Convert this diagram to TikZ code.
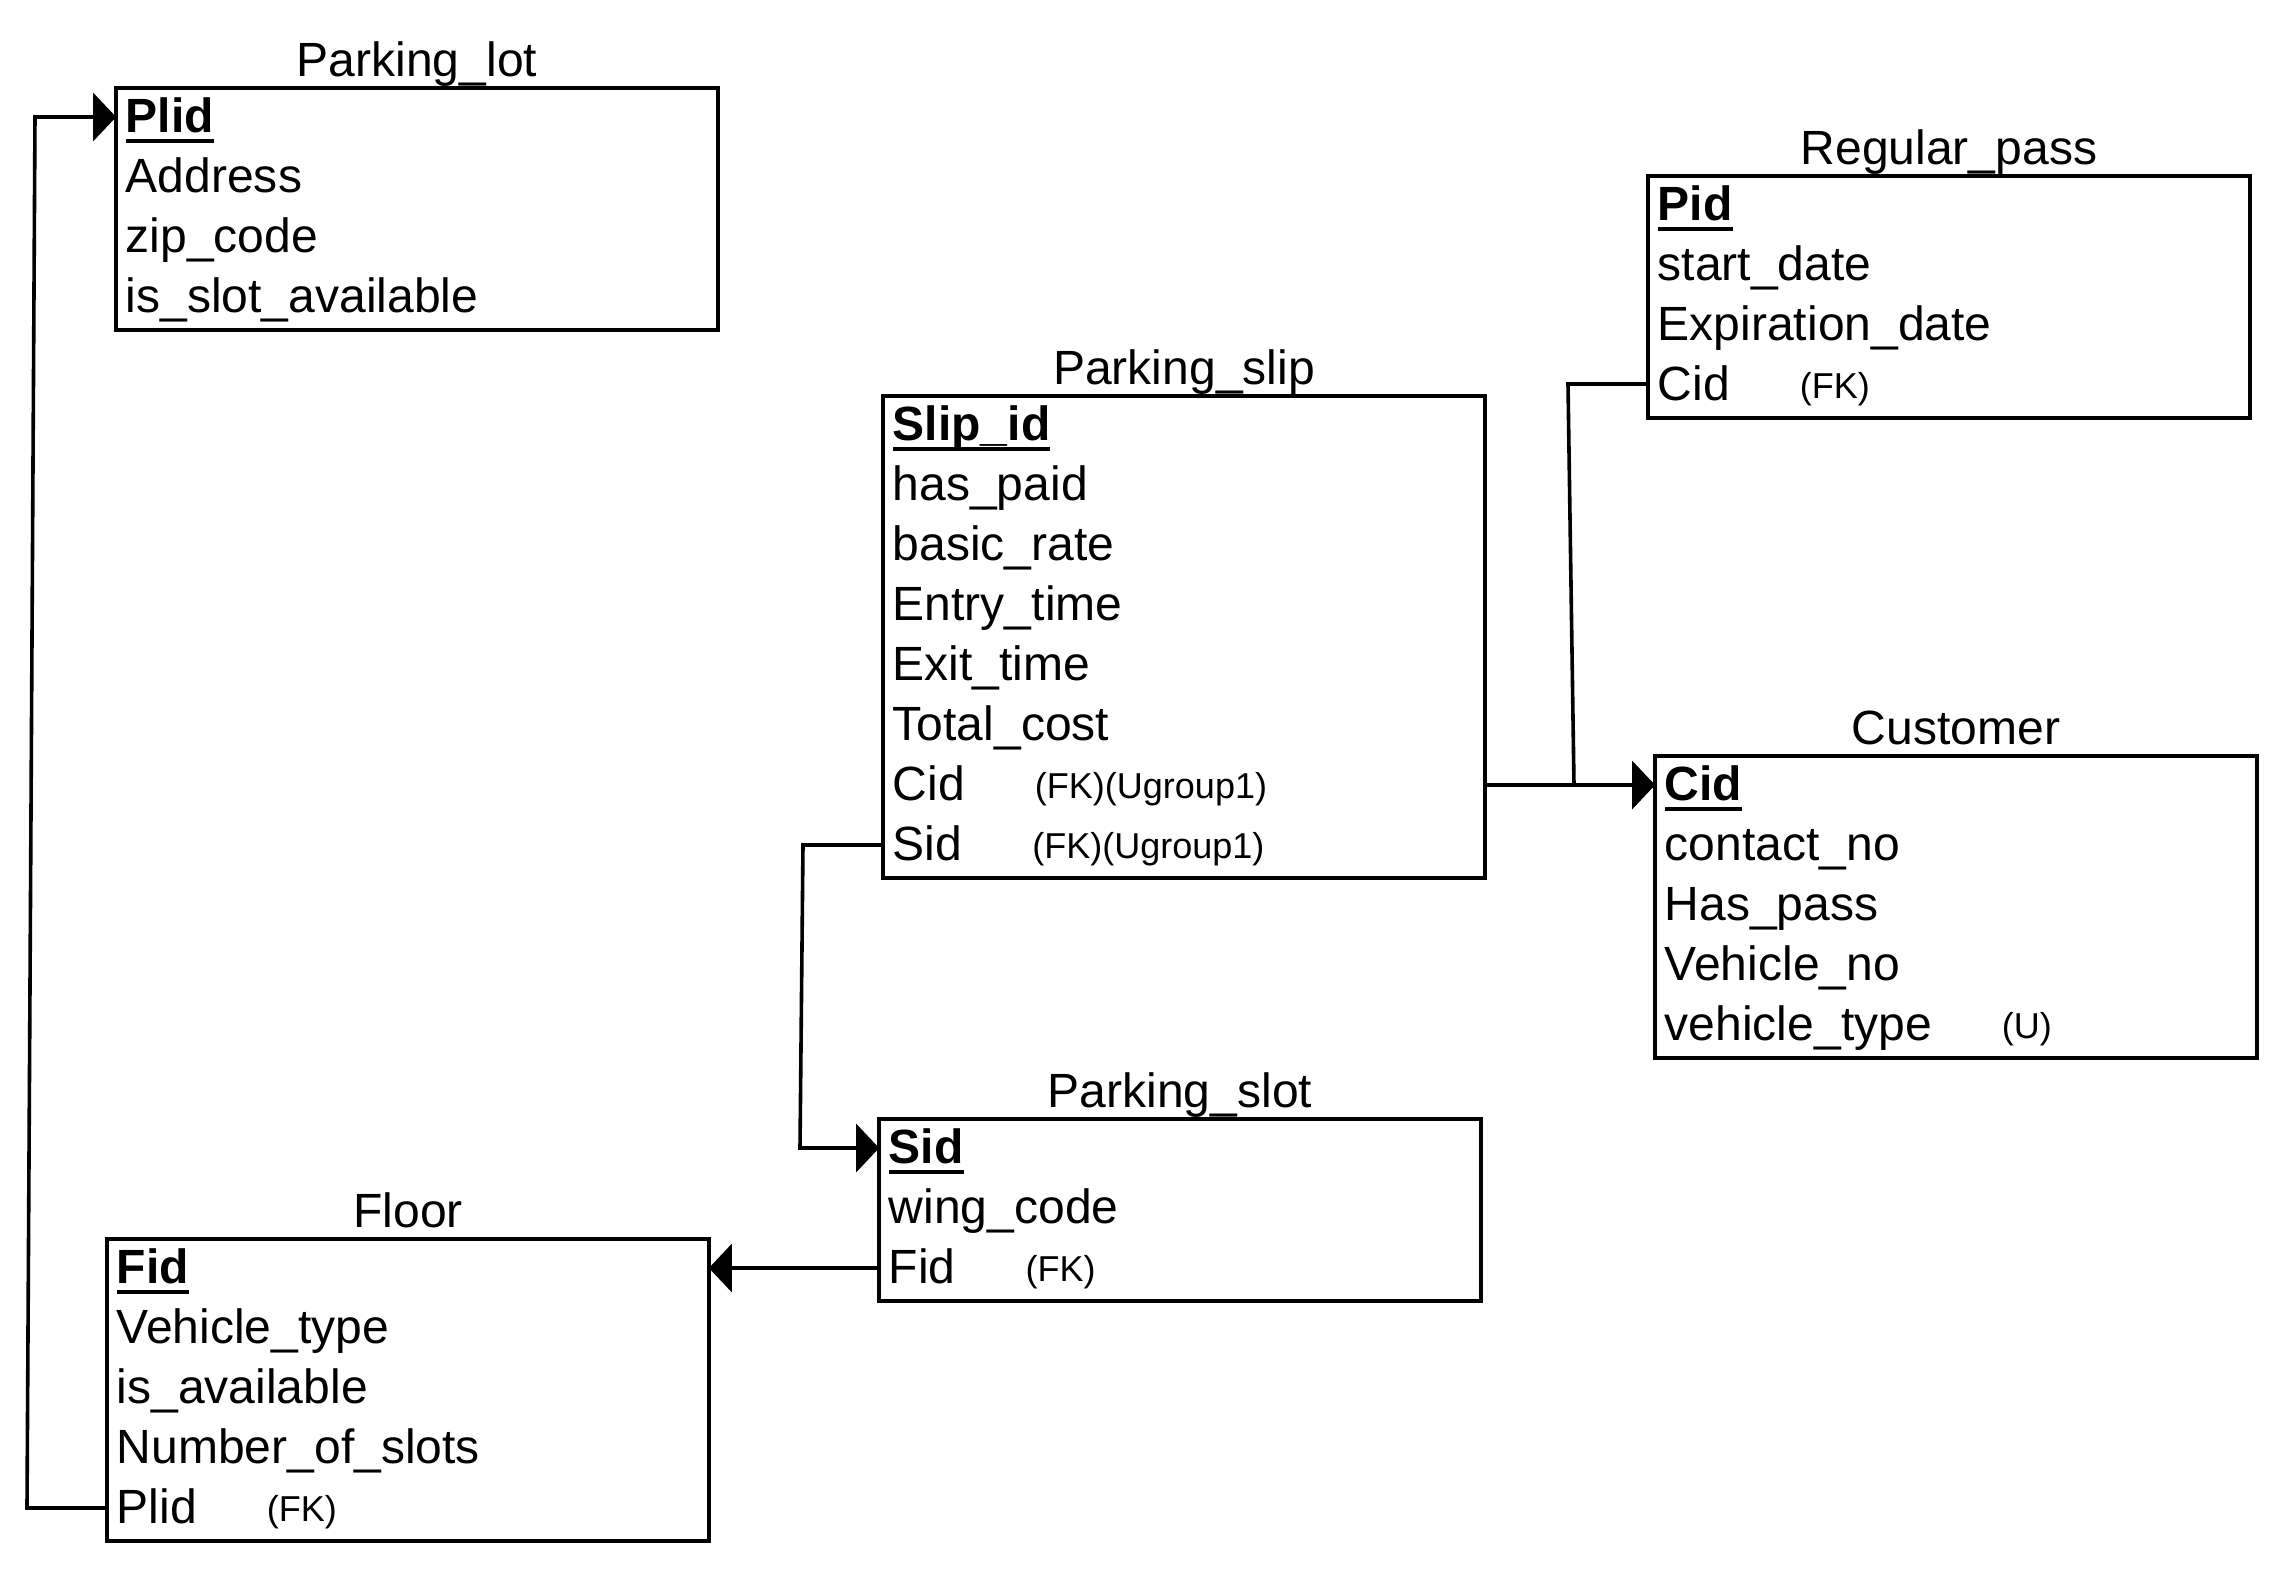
\documentclass[tikz,border=0pt]{standalone}
\usepackage{fontspec}
\setmainfont{Liberation Sans}
\usetikzlibrary{arrows.meta,fit}
\newsavebox\pkbox
\newcommand{\pkey}[1]{\sbox\pkbox{\bfseries #1}\rlap{\rule[-0.107cm]{\wd\pkbox}{0.034cm}}\usebox\pkbox}
\newcommand{\attrx}[2]{#1\hspace*{0.70cm}\raisebox{0.02cm}{\fontsize{10.24pt}{12pt}\selectfont #2}}
\tikzset{
  row/.style={minimum width=6cm, minimum height=0.6cm, inner xsep=0.09cm, inner ysep=0pt,
              text width=5.82cm, align=left, text height=0.43cm, text depth=0.17cm},
  entity/.style={draw, line width=0.038cm, inner sep=0pt},
  title/.style={anchor=base, inner sep=0pt},
  link/.style={line width=0.036cm},
  fk/.style={link, -{Triangle[length=0.23cm, width=0.48cm]}}
}
\begin{document}
\begin{tikzpicture}[x=0.01cm, y=-0.01cm, font=\fontsize{13.66pt}{16pt}\selectfont]
\useasboundingbox (0,0) rectangle (2284,1568);

% Parking_lot
\node[row] (lot1) at (417,119) {\pkey{Plid}};
\node[row] (lot2) at (417,179) {Address};
\node[row] (lot3) at (417,239) {zip\_code};
\node[row] (lot4) at (417,299) {is\_slot\_available};
\node[entity, fit=(lot1)(lot4)] (lot) {};
\node[title] (lotT) at ([yshift=0.1cm]lot.north) {Parking\_lot};

% Regular_pass
\node[row] (pass1) at (1949,207) {\pkey{Pid}};
\node[row] (pass2) at (1949,267) {start\_date};
\node[row] (pass3) at (1949,327) {Expiration\_date};
\node[row] (pass4) at (1949,387) {\attrx{Cid}{(FK)}};
\node[entity, fit=(pass1)(pass4)] (pass) {};
\node[title] (passT) at ([yshift=0.1cm]pass.north) {Regular\_pass};

% Parking_slip
\node[row] (slip1) at (1184,427) {\pkey{Slip\_id}};
\node[row] (slip2) at (1184,487) {has\_paid};
\node[row] (slip3) at (1184,547) {basic\_rate};
\node[row] (slip4) at (1184,607) {Entry\_time};
\node[row] (slip5) at (1184,667) {Exit\_time};
\node[row] (slip6) at (1184,727) {Total\_cost};
\node[row] (slip7) at (1184,787) {\attrx{Cid}{(FK)(Ugroup1)}};
\node[row] (slip8) at (1184,847) {\attrx{Sid}{(FK)(Ugroup1)}};
\node[entity, fit=(slip1)(slip8)] (slip) {};
\node[title] (slipT) at ([yshift=0.1cm]slip.north) {Parking\_slip};

% Customer
\node[row] (cust1) at (1956,787) {\pkey{Cid}};
\node[row] (cust2) at (1956,847) {contact\_no};
\node[row] (cust3) at (1956,907) {Has\_pass};
\node[row] (cust4) at (1956,967) {Vehicle\_no};
\node[row] (cust5) at (1956,1027) {\attrx{vehicle\_type}{(U)}};
\node[entity, fit=(cust1)(cust5)] (cust) {};
\node[title] (custT) at ([yshift=0.1cm]cust.north) {Customer};

% Parking_slot
\node[row] (slot1) at (1180,1150) {\pkey{Sid}};
\node[row] (slot2) at (1180,1210) {wing\_code};
\node[row] (slot3) at (1180,1270) {\attrx{Fid}{(FK)}};
\node[entity, fit=(slot1)(slot3)] (slot) {};
\node[title] (slotT) at ([yshift=0.1cm]slot.north) {Parking\_slot};

% Floor
\node[row] (floor1) at (408,1270) {\pkey{Fid}};
\node[row] (floor2) at (408,1330) {Vehicle\_type};
\node[row] (floor3) at (408,1390) {is\_available};
\node[row] (floor4) at (408,1450) {Number\_of\_slots};
\node[row] (floor5) at (408,1510) {\attrx{Plid}{(FK)}};
\node[entity, fit=(floor1)(floor5)] (floor) {};
\node[title] (floorT) at ([yshift=0.1cm]floor.north) {Floor};

% connectors
\coordinate (c1) at (27,1508);
\coordinate (c2) at (35,117);
\draw[fk] ([yshift=0.02cm]floor5.west) -- (c1) -- (c2) -- ([yshift=0.02cm]lot1.west);

\draw[fk] ([yshift=0.02cm]slot3.west) -- ([yshift=0.02cm]floor1.east);

\coordinate (c3) at (803,845);
\coordinate (c4) at (800,1148);
\draw[fk] ([yshift=0.02cm]slip8.west) -- (c3) -- (c4) -- ([yshift=0.02cm]slot1.west);

\draw[fk] ([yshift=0.02cm]slip7.east) -- ([yshift=0.02cm]cust1.west);

\coordinate (c5) at (1568,384);
\coordinate (j) at (1574,785);
\draw[link] ([yshift=0.03cm]pass4.west) -- (c5) -- (j);
\end{tikzpicture}
\end{document}
